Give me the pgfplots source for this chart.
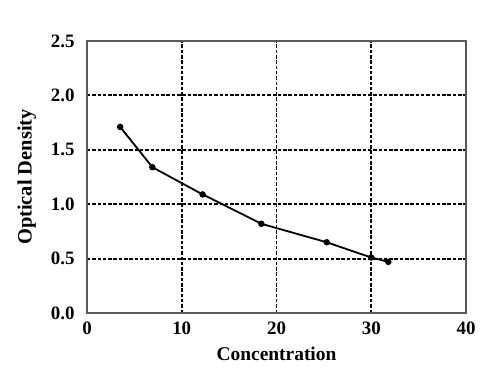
\documentclass[border=0pt]{standalone}
\usepackage{pgfplots}
\pgfplotsset{compat=1.18}
\usepackage{fontspec}
\setmainfont{Liberation Serif}
\begin{document}
\begin{tikzpicture}
\begin{axis}[
  at={(0,0)}, anchor=south west,
  scale only axis,
  width=379bp, height=272bp,
  xmin=0, xmax=40, ymin=0, ymax=2.5,
  xtick={0,10,20,30,40},
  ytick={0,0.5,1,1.5,2,2.5},
  y tick label style={/pgf/number format/fixed, /pgf/number format/fixed zerofill, /pgf/number format/precision=1, xshift=-9bp},
  /pgf/number format/assume math mode=true,
  tick label style={font=\fontsize{19}{20}\selectfont\bfseries},
  xlabel style={font=\fontsize{19.5}{21}\selectfont\bfseries, yshift=-6bp},
  ylabel style={font=\fontsize{20.5}{22}\selectfont\bfseries, yshift=8bp},
  xlabel={Concentration},
  ylabel={Optical Density},
  major tick length=0pt,
  axis line style={draw=black!65, line width=1.6bp},
  grid=major,
  major grid style={black, line width=1.8bp, dash pattern=on 3.5bp off 1.8bp},
  x tick label style={yshift=-5bp},
]
\addplot[black, line width=1.8bp, mark=*, mark size=2.3bp] coordinates {
 (3.5,1.71) (6.9,1.34) (12.2,1.09) (18.4,0.82) (25.3,0.65) (30.0,0.51) (31.8,0.47)
};
\end{axis}
\path[use as bounding box] (-87bp,-68bp) rectangle (402bp,313bp);
\end{tikzpicture}
\end{document}
